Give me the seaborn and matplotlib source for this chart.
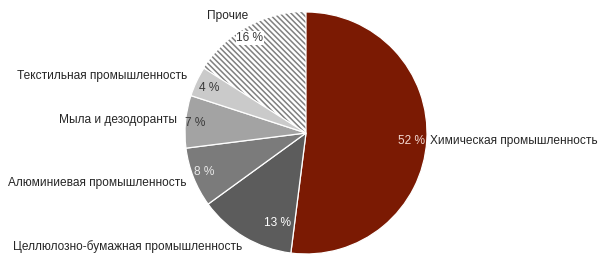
import matplotlib
matplotlib.use("Agg")
import matplotlib.pyplot as plt
import seaborn as sns

categories = ["Химическая промышленность", "Целлюлозно-бумажная промышленность",
              "Алюминиевая промышленность", "Мыла и дезодоранты",
              "Текстильная промышленность", "Прочие"]
shares = [52, 13, 8, 7, 4, 16]
pct_labels = ["52 %", "13 %", "8 %", "7 %", "4 %", "16 %"]

sns.set_theme(style="white")
plt.rcParams["font.family"] = ["Liberation Sans", "DejaVu Sans"]
plt.rcParams["hatch.linewidth"] = 1.1

colors = ["#7b1a03", "#5c5c5c", "#7b7b7b", "#a3a3a3", "#cacaca", "white"]

W, H = 606, 272
CX, CY, R = 306, 133, 121
fig = plt.figure(figsize=(W / 100, H / 100), dpi=100)
ax = fig.add_axes([0, 0, 1, 1])

def P(px, py):
    return (px - CX) / R, (CY - py) / R

wedges, _ = ax.pie(shares, colors=colors, startangle=90, counterclock=False,
                   radius=1.0, center=(0, 0),
                   wedgeprops=dict(edgecolor="white", linewidth=0.9))
wedges[-1].set_hatch("\\\\\\\\\\\\")
wedges[-1].set_edgecolor("#808080")
wedges[-1].set_linewidth(0)
wedges[-1].set_zorder(0.5)

ax.set_xlim(-CX / R, (W - CX) / R)
ax.set_ylim(-(H - CY) / R, CY / R)
ax.set_aspect("equal")
ax.axis("off")

fs = 8.55
pct_pos = [(411, 141), (277, 223), (204, 172), (195, 123), (209, 88), (250, 38)]
pct_col = ["#f3d9d2", "white", "#e8e8e8", "#3a3a3a", "#3a3a3a", "#3a3a3a"]
for lab, (px, py), c in zip(pct_labels, pct_pos, pct_col):
    x, y = P(px, py)
    kw = {}
    if lab == "16 %":
        kw["bbox"] = dict(facecolor="white", edgecolor="none", pad=0.6)
    ax.text(x, y, lab, ha="center", va="center", fontsize=fs, color=c, zorder=5, **kw)

cat_pos = [(430, 141, "left"), (128, 247, "center"), (186, 183, "right"),
           (177, 120, "right"), (187, 76, "right"), (228, 16, "center")]
for lab, (px, py, ha) in zip(categories, cat_pos):
    x, y = P(px, py)
    ax.text(x, y, lab, ha=ha, va="center", fontsize=fs, color="#262626", zorder=5)

fig.savefig("out.png", dpi=100)
